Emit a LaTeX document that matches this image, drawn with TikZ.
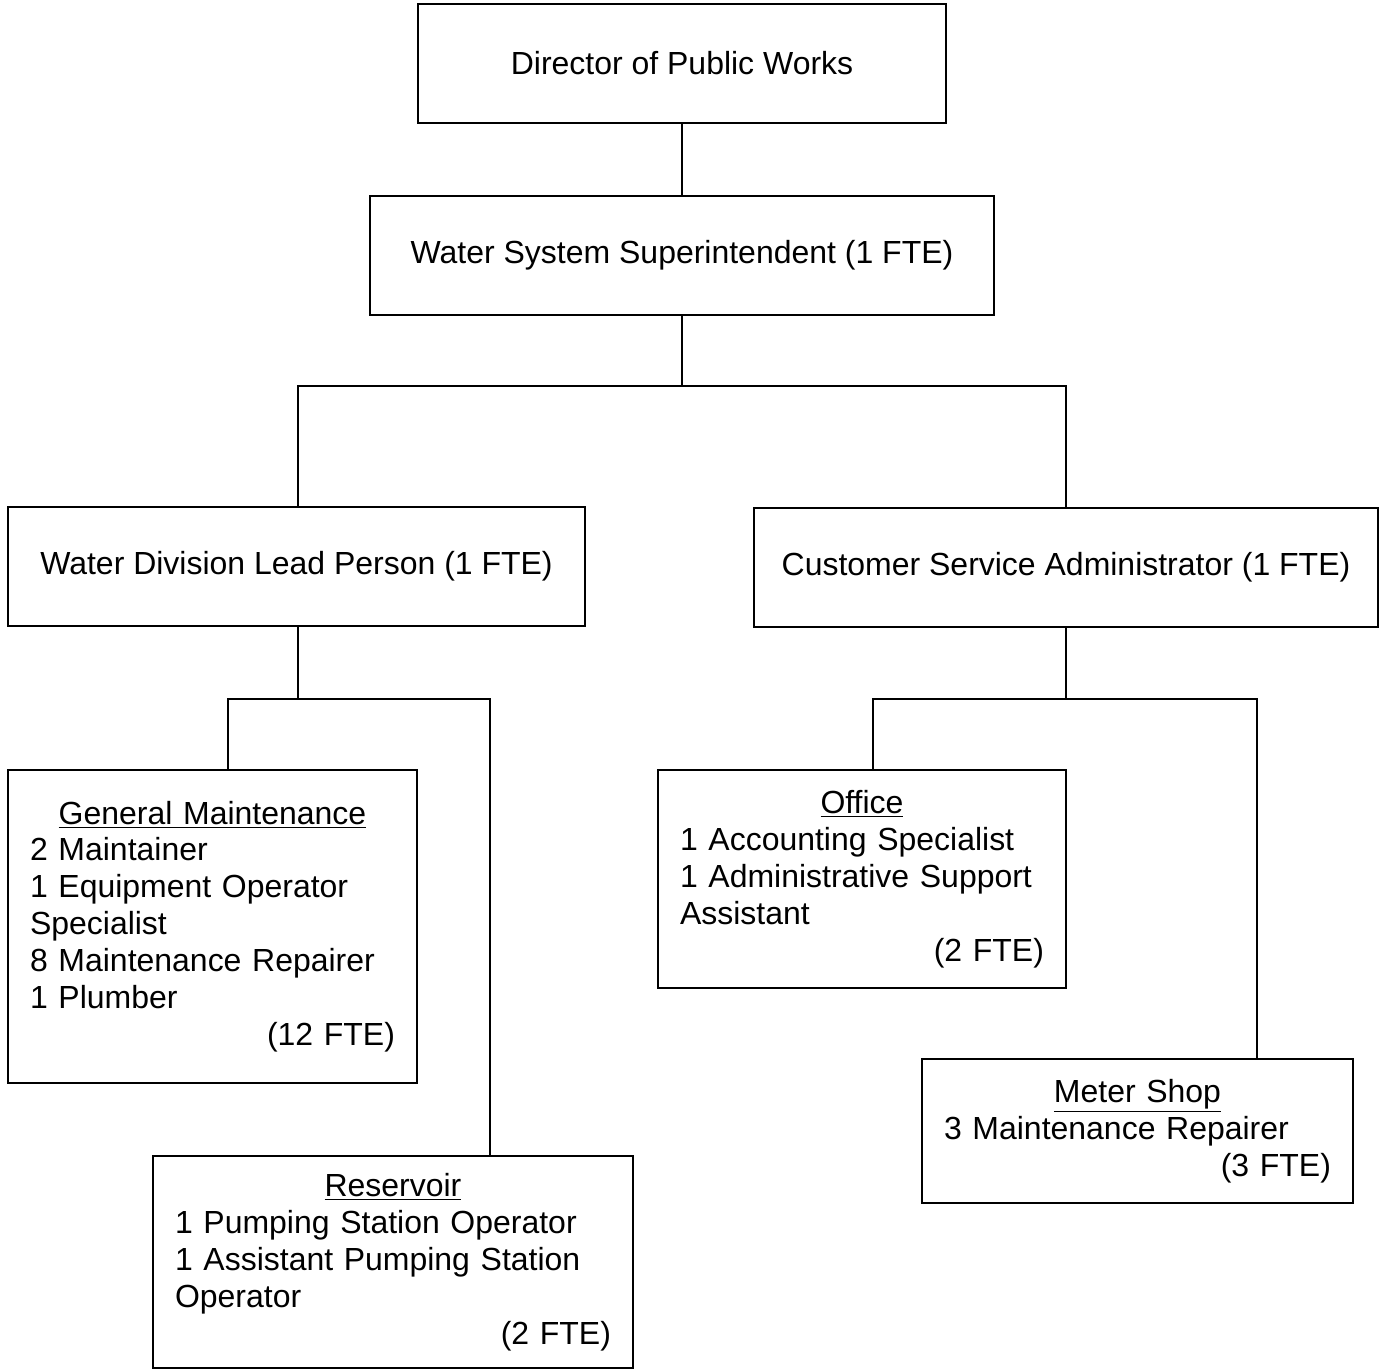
\documentclass[tikz,border=0pt]{standalone}
\usepackage{fontspec}
\setmainfont{Liberation Sans}
\tikzset{
  orgbox/.style={draw, line width=1.1pt, inner sep=0pt, minimum height=2.38cm},
  listbox/.style={draw, line width=1.1pt, inner ysep=0pt, inner xsep=0.44cm, text width=#1, align=left},
}
\begin{document}
\begin{tikzpicture}[x=0.02cm, y=-0.02cm, line width=1.1pt, font=\fontsize{18.2pt}{21pt}\selectfont]
  \useasboundingbox (0,0) rectangle (1384,1370);

  % top of the chart
  \node[orgbox, minimum width=10.56cm] (dir) at (682,63.5) {Director of Public Works};
  \node[orgbox, minimum width=12.48cm] (wss) at (682,255.5) {Water System Superintendent (1 FTE)};

  % second level
  \node[orgbox, minimum width=11.54cm] (wdlp) at (296.5,566.5) {Water Division Lead Person (1 FTE)};
  \node[orgbox, minimum width=12.48cm] (csa) at (1066,567.5) {Customer Service Administrator (1 FTE)};

  % sections
  \node[listbox=7.3cm, minimum height=6.26cm] (gm) at (212.5,926.5) {%
    {\centering\underline{General Maintenance}\par}
    2 Maintainer\\
    1 Equipment Operator\\
    Specialist\\
    8 Maintenance Repairer\\
    1 Plumber\par
    {\raggedleft (12 FTE)\par}};
  \node[listbox=8.72cm, minimum height=4.24cm] (res) at (393,1262) {%
    {\centering\underline{Reservoir}\par}
    1 Pumping Station Operator\\
    1 Assistant Pumping Station\\
    Operator\par
    {\raggedleft (2 FTE)\par}};
  \node[listbox=7.28cm, minimum height=4.36cm] (off) at (862,879) {%
    {\centering\underline{Office}\par}
    1 Accounting Specialist\\
    1 Administrative Support\\
    Assistant\par
    {\raggedleft (2 FTE)\par}};
  \node[listbox=7.74cm, minimum height=2.88cm] (met) at (1137.5,1131) {%
    {\centering\underline{Meter Shop}\par}
    3 Maintenance Repairer\par
    {\raggedleft (3 FTE)\par}};

  % junctions
  \coordinate (topbus) at (682,386);
  \coordinate (lbus) at (298,699);
  \coordinate (rbus) at (1066,699);
  \coordinate (gmin) at (228,770);
  \coordinate (resin) at (490,1156);
  \coordinate (offin) at (873,770);
  \coordinate (metin) at (1257,1059);

  % connectors
  \draw (dir.south) -- (wss.north);
  \draw (wss.south) -- (topbus);
  \draw (lbus |- wdlp.north) -- (lbus |- topbus) -- (csa.north |- topbus) -- (csa.north);
  \draw (lbus |- wdlp.south) -- (lbus);
  \draw (gmin) -- (gmin |- lbus) -- (resin |- lbus) -- (resin);
  \draw (csa.south) -- (rbus);
  \draw (offin) -- (offin |- rbus) -- (metin |- rbus) -- (metin);
\end{tikzpicture}
\end{document}
